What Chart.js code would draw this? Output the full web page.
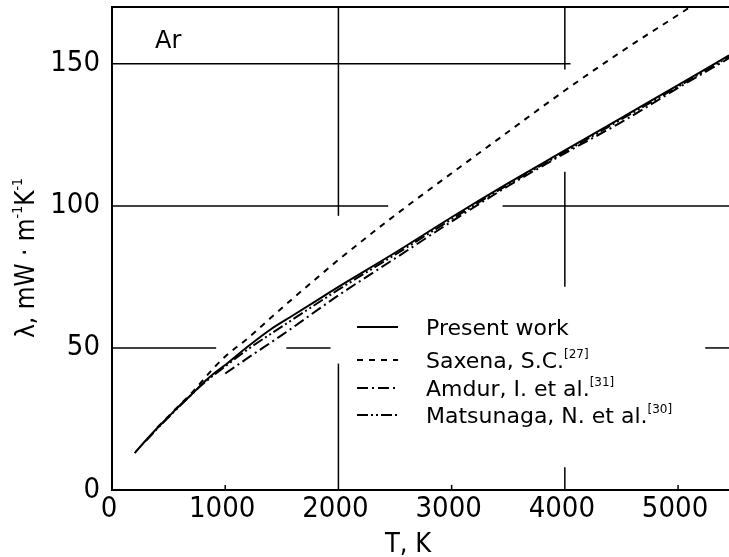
<!DOCTYPE html>
<html>
<head>
<meta charset="utf-8">
<script src="https://cdn.jsdelivr.net/npm/chart.js@4.4.1/dist/chart.umd.min.js"></script>
<style>
  html, body { margin: 0; padding: 0; background: #fff; }
  #wrap { width: 729px; height: 557px; }
</style>
</head>
<body>
<div id="wrap"><canvas id="argonChart"></canvas></div>
<script>
// Thermal conductivity of argon (T in K, lambda in mW/(m K))
const presentT = [200, 300, 400, 500, 600, 700, 800, 900, 1000, 1200, 1400, 1600, 1800, 2000, 2500, 3000, 3500, 4000, 4500, 5000, 5450];
const presentK = [13, 17.5, 21.8, 25.8, 29.8, 33.5, 37.5, 41, 44, 50.5, 56.5, 61.5, 66.5, 71.5, 83.5, 96, 108, 119.5, 131, 142.5, 153];

const saxenaT = [400, 500, 600, 700, 800, 900, 1000, 1200, 1400, 1600, 1800, 2000, 2500, 3000, 3500, 4000, 4500, 5000, 5100];
const saxenaK = [22, 26, 30, 34, 38.5, 43, 47, 53.4, 60.5, 67.5, 74.3, 81, 96.7, 111.5, 126.1, 140.6, 154.3, 167.2, 169.8];

const amdurT = [1000, 1200, 1500, 2000, 2500, 3000, 3500, 4000, 4500, 5000, 5450];
const amdurK = [41, 46.5, 54.5, 68.5, 81.5, 94.5, 107, 118.5, 129.5, 141.5, 152];

const matsuT = [300, 400, 600, 800, 1000, 1200, 1500, 2000, 2500, 3000, 3500, 4000, 4500, 5000, 5450];
const matsuK = [17.3, 21.6, 29.6, 37.2, 43.5, 49.5, 57.5, 70.5, 82.8, 95.3, 107.5, 119, 130.5, 142, 152.5];

const seriesNames = ['Present work', 'Saxena, S.C.', 'Amdur, I. et al.', 'Matsunaga, N. et al.'];
const seriesRefs = ['', '[27]', '[31]', '[30]'];

const xTicks = [0, 1000, 2000, 3000, 4000, 5000];
const yTicks = [0, 50, 100, 150];

const FONT = "'DejaVu Sans Condensed', 'DejaVu Sans', sans-serif";
const TEXT_FONT = "'DejaVu Sans', sans-serif";

function series(ts, ks, dash) {
  return {
    data: ts.map((t, i) => ({ x: t, y: ks[i] })),
    borderColor: '#000',
    borderWidth: 2,
    borderDash: dash,
    pointRadius: 0,
    fill: false,
    cubicInterpolationMode: 'monotone'
  };
}

// text with superscript pieces
function drawRich(ctx, parts, x, y, size, align, family) {
  const fam = family || FONT;
  const big = size + 'px ' + fam;
  const small = Math.round(size * 0.55) + 'px ' + fam;
  let total = 0;
  parts.forEach(p => {
    ctx.font = p.sup ? small : big;
    p.w = ctx.measureText(p.t).width;
    total += p.w;
  });
  let cx = align === 'center' ? x - total / 2 : x;
  ctx.textAlign = 'left';
  ctx.textBaseline = 'alphabetic';
  parts.forEach(p => {
    ctx.font = p.sup ? small : big;
    ctx.fillText(p.t, cx, p.sup ? y - size * 0.45 : y);
    cx += p.w;
  });
}

// no extra room around the axes, the plot box is placed by hand
function noPad(s) {
  s.paddingTop = 0;
  s.paddingBottom = 0;
  s.paddingLeft = 0;
  s.paddingRight = 0;
}

// broken grid lines and ticks as in the printed figure
const frame = {
  id: 'frame',
  beforeDatasetsDraw(chart) {
    const { ctx, scales: { x, y } } = chart;
    ctx.save();
    ctx.strokeStyle = '#000';
    ctx.lineWidth = 1.5;
    const line = (x0, y0, x1, y1) => {
      ctx.beginPath();
      ctx.moveTo(x.getPixelForValue(x0), y.getPixelForValue(y0));
      ctx.lineTo(x.getPixelForValue(x1), y.getPixelForValue(y1));
      ctx.stroke();
    };
    [[150, 0, 4050], [100, 0, 2440], [100, 3450, 5450], [50, 0, 920], [50, 1540, 1930], [50, 5240, 5450]]
      .forEach(h => line(h[1], h[0], h[2], h[0]));
    [[2000, 96.5, 170], [2000, 0, 44.5], [4000, 148, 170], [4000, 71.5, 112], [4000, 0, 8],
     [1000, 0, 1.8], [3000, 0, 1.8], [5000, 0, 1.8]]
      .forEach(v => line(v[0], v[1], v[0], v[2]));
    ctx.lineWidth = 2;
    line(0, 170, 5450, 170);
    ctx.restore();
  },
  afterDraw(chart) {
    const { ctx } = chart;
    ctx.save();
    ctx.fillStyle = '#000';
    ctx.strokeStyle = '#000';

    drawRich(ctx, [{ t: 'Ar' }], 155, 48, 24, 'left', TEXT_FONT);

    drawRich(ctx, [{ t: 'T, K' }], 408, 552, 27, 'center');

    ctx.save();
    ctx.translate(34, 258);
    ctx.rotate(-Math.PI / 2);
    drawRich(ctx, [{ t: 'λ, mW · m' }, { t: '-1', sup: true }, { t: 'K' }, { t: '-1', sup: true }], 0, 0, 26, 'center');
    ctx.restore();

    const rows = [327, 360, 388, 415];
    chart.data.datasets.forEach((ds, i) => {
      ctx.lineWidth = 2;
      ctx.setLineDash(ds.borderDash);
      ctx.beginPath();
      ctx.moveTo(357, rows[i]);
      ctx.lineTo(398, rows[i]);
      ctx.stroke();
      ctx.setLineDash([]);
      const parts = [{ t: seriesNames[i] }];
      if (seriesRefs[i]) parts.push({ t: seriesRefs[i], sup: true });
      drawRich(ctx, parts, 426, rows[i] + 8, 22, 'left', TEXT_FONT);
    });
    ctx.restore();
  }
};

const tickFont = { family: FONT, size: 29 };

new Chart(document.getElementById('argonChart'), {
  type: 'line',
  data: {
    datasets: [
      series(presentT, presentK, []),
      series(saxenaT, saxenaK, [6, 6]),
      series(amdurT, amdurK, [11, 4, 2, 4]),
      series(matsuT, matsuK, [11, 3, 2, 3, 2, 3])
    ]
  },
  options: {
    responsive: true,
    maintainAspectRatio: false,
    animation: false,
    layout: { padding: { top: 7, right: 0, left: 0, bottom: 0 } },
    plugins: { legend: { display: false }, tooltip: { enabled: false } },
    scales: {
      x: {
        type: 'linear',
        min: 0,
        max: 5450,
        afterBuildTicks: s => { s.ticks = xTicks.map(v => ({ value: v })); },
        afterFit: s => { s.height = 67; noPad(s); },
        grid: { display: false, drawTicks: false },
        border: { display: true, color: '#000', width: 2 },
        ticks: { color: '#000', font: tickFont, padding: 2, labelOffset: -3, maxRotation: 0, autoSkip: false,
          callback: v => String(v) }
      },
      y: {
        type: 'linear',
        min: 0,
        max: 170,
        afterBuildTicks: s => { s.ticks = yTicks.map(v => ({ value: v })); },
        afterFit: s => { s.width = 112; noPad(s); },
        grid: { display: false, drawTicks: false },
        border: { display: true, color: '#000', width: 2 },
        ticks: { color: '#000', font: tickFont, padding: 12, autoSkip: false, callback: v => String(v) }
      }
    }
  },
  plugins: [frame]
});
</script>
</body>
</html>
